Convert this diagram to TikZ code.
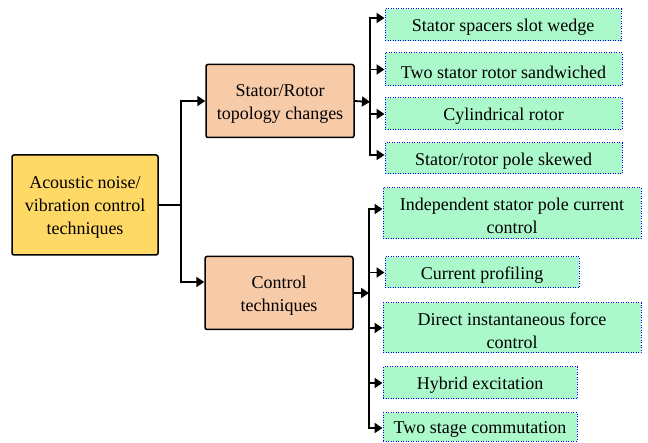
\documentclass[tikz,border=0pt]{standalone}
\usepackage{fontspec}
\setmainfont{Liberation Serif}
\usetikzlibrary{arrows.meta}
\definecolor{rootfill}{HTML}{FFD966}
\definecolor{midfill}{HTML}{F8CBA8}
\definecolor{leaffill}{HTML}{ABF8CB}
\newcommand{\lowstrut}{\rule{0pt}{17.5pt}}
\begin{document}
\begin{tikzpicture}[x=1pt,y=-1pt,font=\rmfamily\fontsize{18}{23}\selectfont,
  rootbox/.style={draw=black,line width=1.5pt,rounded corners=2pt,fill=rootfill,align=center,inner sep=0pt},
  midbox/.style={draw=black,line width=1.5pt,rounded corners=2pt,fill=midfill,align=center,inner sep=0pt},
  leaf/.style={draw=blue,line width=1pt,dash pattern=on 1pt off 1.5pt,fill=leaffill,align=center,inner sep=0pt},
  conn/.style={line width=1.8pt},
  arr/.style={conn,-{Triangle[length=8pt,width=10pt]}}]
\useasboundingbox (0,0) rectangle (648,443);
\node[rootbox,minimum width=146pt,minimum height=100pt] (root) at (85,205) {\lowstrut Acoustic noise/\\vibration control\\techniques};
\node[midbox,minimum width=148pt,minimum height=73pt] (sr) at (280,101) {\lowstrut Stator/Rotor\\topology changes};
\node[midbox,minimum width=148pt,minimum height=73pt] (ctrl) at (279,293) {\lowstrut Control\\techniques};
\node[leaf,minimum width=236pt,minimum height=32pt] (g1) at (503,25) {\lowstrut Stator spacers slot wedge};
\node[leaf,minimum width=237pt,minimum height=33pt] (g2) at (503.5,69.5) {\lowstrut Two stator rotor sandwiched};
\node[leaf,minimum width=237pt,minimum height=32pt] (g3) at (503.5,114) {\lowstrut Cylindrical rotor};
\node[leaf,minimum width=237pt,minimum height=31pt] (g4) at (503.5,158.5) {\lowstrut Stator/rotor pole skewed};
\node[leaf,minimum width=258pt,minimum height=51pt] (h1) at (512,213.5) {\lowstrut Independent stator pole current\\control};
\node[leaf,minimum width=194pt,minimum height=31pt] (h2) at (482,272.5) {\lowstrut Current profiling};
\node[leaf,minimum width=258pt,minimum height=50pt] (h3) at (512,328) {\lowstrut Direct instantaneous force\\control};
\node[leaf,minimum width=194pt,minimum height=32pt] (h4) at (480,383) {\lowstrut Hybrid excitation};
\node[leaf,minimum width=194pt,minimum height=28pt] (h5) at (480,427) {\lowstrut Two stage commutation};
\coordinate (j0) at (181,205);
\coordinate (j1) at (370,102);
\coordinate (j2) at (369,293);
\draw[conn] (root.east) -- (j0);
\draw[arr] (j0) |- (sr.west);
\draw[arr] (j0) |- ([yshift=11pt]ctrl.west);
\draw[arr] (sr.east) -- (j1);
\draw[arr] (j1) |- ([yshift=7pt]g1.west);
\draw[arr] (j1) |- (g2.west);
\draw[arr] (j1) |- (g3.west);
\draw[arr] (j1) |- ([yshift=3.5pt]g4.west);
\draw[arr] (ctrl.east) -- (j2);
\draw[arr] (j2) |- ([yshift=4.5pt]h1.west);
\draw[arr] (j2) |- (h2.west);
\draw[arr] (j2) |- (h3.west);
\draw[arr] (j2) |- (h4.west);
\draw[arr] (j2) |- ([yshift=-1pt]h5.west);
\end{tikzpicture}
\end{document}
